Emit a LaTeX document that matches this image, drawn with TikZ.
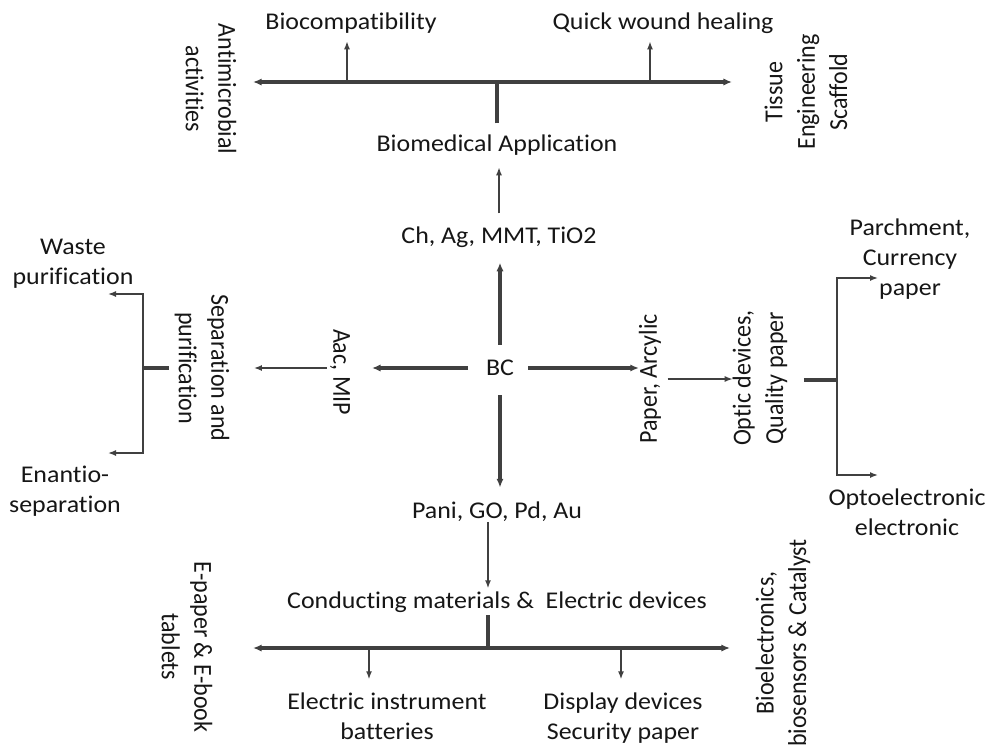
\documentclass[tikz,border=0pt]{standalone}
\usepackage{fontspec}
\setmainfont{Carlito}[Ligatures={NoCommon,NoRare,NoContextual}]
\usepackage{tikz}
\usetikzlibrary{arrows.meta,calc}
\definecolor{linegrey}{HTML}{404040}
\definecolor{inkgrey}{HTML}{161616}

\begin{document}
\begin{tikzpicture}[x=0.75pt, y=-0.75pt,
    every node/.style={xscale=1.08, inner sep=0pt, outer sep=0pt, align=center,
      text=inkgrey, font=\fontsize{18}{22.5}\selectfont},
    readdown/.style={rotate=-90},
    readup/.style={rotate=90},
    axis/.style={draw=linegrey, line width=2.4pt},
    bigarrow/.style={axis, -{Latex[length=6.5pt,width=5.5pt]}},
    twoway/.style={axis, {Latex[length=6.5pt,width=5.5pt]}-{Latex[length=6.5pt,width=5.5pt]}},
    branch/.style={draw=linegrey, line width=1.1pt, -{Latex[length=6pt,width=4.5pt]}}]
    \useasboundingbox (0,0) rectangle (992,747);

    \node (bc) at (500,368) {BC};
    \node (chag) at (499,237) {Ch, Ag, MMT, TiO2};
    \node (biomed) at (497,145) {Biomedical Application};
    \node (biocomp) at (351,23) {Biocompatibility};
    \node (wound) at (663,23) {Quick wound healing};
    \node[readdown] (antimic) at (211,89) {Antimicrobial\\activities};
    \node[readup] (tissue) at (806,92) {Tissue\\Engineering\\Scaffold};
    \node[readdown] (aac) at (340,372) {Aac, MIP};
    \node[readdown] (sep) at (202,368) {Separation and\\purification};
    \node (waste) at (73,264) {Waste\\purification};
    \node (enant) at (65,491) {Enantio-\\separation};
    \node[readup] (paper) at (650,379) {Paper, Arcylic};
    \node[readup] (optic) at (760,378) {Optic devices,\\Quality paper};
    \node (parch) at (910,259) {Parchment,\\Currency\\paper};
    \node (opto) at (907,512) {Optoelectronic\\electronic};
    \node (pani) at (497,512) {Pani, GO, Pd, Au};
    \node (cond) at (497,602) {Conducting materials \& \ Electric devices};
    \node (instr) at (387,716) {Electric instrument\\batteries};
    \node (disp) at (623,718) {Display devices\\Security paper};
    \node[readdown] (epaper) at (187,647) {E-paper \& E-book\\tablets};
    \node[readup] (bioel) at (783,643) {Bioelectronics,\\biosensors \& Catalyst};

    \coordinate (topL) at (253,82);
    \coordinate (topR) at (732,82);
    \coordinate (topj) at (497,82);
    \coordinate (bioj) at (347,82);
    \coordinate (woundj) at (650,82);
    \coordinate (sepj) at (143,368);
    \coordinate (wasteend) at (108,294);
    \coordinate (enantend) at (108,453);
    \coordinate (optj) at (837,380);
    \coordinate (parchend) at (878,278);
    \coordinate (optoend) at (878,475);
    \coordinate (botj) at (488,648);
    \coordinate (botL) at (253,648);
    \coordinate (botR) at (730,648);
    \coordinate (instrj) at (369,648);
    \coordinate (dispj) at (621,648);

    % biomedical branch
    \draw[twoway] (topL) -- (topR);
    \draw[axis, shorten <=8.5pt] (biomed.north) -- (biomed.north |- topj);
    \draw[branch, shorten >=6pt] (bioj) -- (bioj |- biocomp.south);
    \draw[branch, shorten >=6pt] (woundj) -- (woundj |- wound.south);
    \draw[branch, shorten <=10pt, shorten >=9pt] (chag.north) -- (chag.north |- biomed.south);
    \draw[bigarrow, shorten <=11.5pt, shorten >=11.5pt] (bc.north) -- (bc.north |- chag.south);

    % separation branch
    \draw[bigarrow, shorten <=13.5pt, shorten >=16.5pt] (bc.west) -- (bc.west -| aac.north);
    \draw[branch, shorten <=2.4pt, shorten >=18.5pt] (aac.south |- bc.west) -- (sep.north |- bc.west);
    \draw[axis, shorten <=4.3pt] (sep.south |- sepj) -- (sepj);
    \draw[branch] (sepj) |- (wasteend);
    \draw[branch] (sepj) |- (enantend);

    % paper branch
    \draw[bigarrow, shorten <=10.6pt] (bc.east) -- (bc.east -| paper.north);
    \draw[branch, shorten <=4.9pt] (paper.south) -- (paper.south -| optic.north);
    \draw[axis, shorten <=12.5pt] (optic.south |- optj) -- (optj);
    \draw[branch] (optj) |- (parchend);
    \draw[branch] (optj) |- (optoend);

    % conducting branch
    \draw[bigarrow, shorten <=14.5pt, shorten >=11pt] (bc.south) -- (bc.south |- pani.north);
    \draw[branch, shorten >=2.5pt] (botj |- pani.south) -- (botj |- cond.north);
    \draw[axis, shorten <=2pt] (botj |- cond.south) -- (botj);
    \draw[twoway] (botL) -- (botR);
    \draw[branch, shorten >=10pt] (instrj) -- (instrj |- instr.north);
    \draw[branch, shorten >=10pt] (dispj) -- (dispj |- disp.north);
\end{tikzpicture}
\end{document}
